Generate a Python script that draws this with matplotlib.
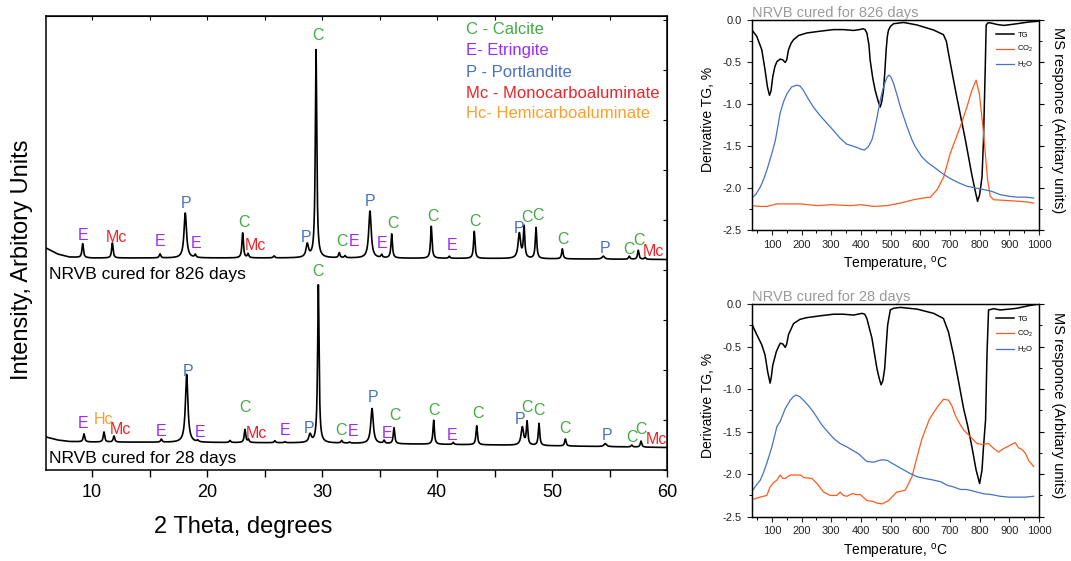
import numpy as np
import matplotlib
matplotlib.use("Agg")
import matplotlib.pyplot as plt
from matplotlib.ticker import MultipleLocator, FuncFormatter

plt.rcParams['font.family'] = ['Liberation Sans', 'DejaVu Sans']
plt.rcParams['mathtext.default'] = 'regular'

# ---------------- XRD data ----------------
bg_x = [6, 7, 8, 10, 20, 30, 45, 60]
bg_826 = [222, 216, 213, 212, 212, 212, 211.5, 210.5]
bg_28 = [33, 30, 28.5, 28, 27.5, 27, 25, 22.5]

peaks_826_pos = [9.19, 11.77, 15.91, 18.11, 18.98, 23.10, 23.57, 25.83, 28.72, 29.48,
                 31.50, 32.0, 34.17, 35.19, 36.06, 39.50, 41.07, 43.24, 47.16, 47.57,
                 48.61, 50.90, 54.46, 56.72, 57.50, 58.09]
peaks_826_h = [14, 15, 4, 45, 3, 25, 4, 2, 13, 208,
               5, 2, 47, 3, 24, 32, 2, 27, 25, 31,
               31, 10, 3, 3, 9, 2]
peaks_826_phase = ['E', 'Mc', 'E', 'P', 'E', 'C', 'Mc', '-', 'P', 'C',
                   'C', 'E', 'P', 'E', 'C', 'C', 'E', 'C', 'P', 'C',
                   'C', 'C', 'P', 'C', 'C', 'Mc']

peaks_28_pos = [9.30, 11.04, 11.91, 16.03, 18.23, 19.19, 22.0, 23.30, 23.60, 25.90,
                26.78, 28.96, 29.68, 31.71, 32.4, 34.35, 35.40, 36.26, 39.71, 41.41,
                43.45, 47.42, 47.83, 48.87, 51.16, 54.63, 56.93, 57.74]
peaks_28_h = [8, 10, 6, 3, 68, 1.5, 2, 13, 3, 2,
              1, 8, 158, 2.5, 1, 35, 3, 16, 24, 2,
              19, 18, 23, 22, 7, 3, 2, 6]
peaks_28_phase = ['E', 'Hc', 'Mc', 'E', 'P', 'E', '-', 'C', 'Mc', '-',
                  'E', 'P', 'C', 'C', 'E', 'P', 'E', 'C', 'C', 'E',
                  'C', 'P', 'C', 'C', 'C', 'P', 'C', 'C']

labels_826 = [('E', 9.24, 235), ('Mc', 12.09, 232.7), ('E', 15.91, 228), ('P', 18.17, 266),
              ('E', 19.02, 226.7), ('C', 23.19, 247.7), ('Mc', 24.17, 225), ('P', 28.61, 232.7),
              ('C', 29.65, 434), ('C', 31.71, 228.3), ('E', 32.81, 228), ('P', 34.2, 268),
              ('E', 35.24, 226.7), ('C', 36.15, 246.7), ('C', 39.63, 253.3), ('E', 41.3, 224),
              ('C', 43.33, 248.7), ('P', 47.13, 241.3), ('C', 47.85, 252.3), ('C', 48.78, 254.7),
              ('C', 50.98, 230.7), ('P', 54.63, 221.7), ('C', 56.7, 220.7), ('C', 57.57, 229.3),
              ('Mc', 58.81, 219)]
labels_28 = [('E', 9.24, 46.7), ('Hc', 11.04, 51), ('Mc', 12.5, 41), ('E', 16.03, 38.7),
             ('P', 18.37, 98), ('E', 19.39, 37.7), ('C', 23.3, 62.3), ('Mc', 24.32, 36),
             ('E', 26.78, 39.3), ('P', 28.9, 41.7), ('C', 29.65, 198.3), ('C', 31.65, 39.3),
             ('E', 32.72, 38.3), ('P', 34.41, 72), ('E', 35.63, 36), ('C', 36.37, 54),
             ('C', 39.71, 59.3), ('E', 41.33, 34.7), ('C', 43.54, 56.7), ('P', 47.22, 50),
             ('C', 47.85, 62.7), ('C', 48.87, 59.3), ('C', 51.16, 41.7), ('P', 54.76, 34.3),
             ('C', 56.93, 32), ('C', 57.77, 40), ('Mc', 59.04, 30)]

legend_phases = ['C - Calcite', 'E- Etringite', 'P - Portlandite',
                 'Mc - Monocarboaluminate', 'Hc- Hemicarboaluminate']
legend_keys = ['C', 'E', 'P', 'Mc', 'Hc']

# ---------------- TG / MS data ----------------
tg826_T = [32, 49, 66, 77, 85, 92, 97, 103, 110, 117, 128, 137, 145, 150, 156, 165, 173, 190, 218, 260,
           308, 340, 375, 395, 407, 414, 420, 427, 431, 440, 448, 458, 465, 470, 476, 481, 485, 489, 493, 500,
           510, 544, 589, 645, 678, 688, 695, 712, 723, 740, 752, 774, 786, 793, 800, 808, 813, 819, 822, 828,
           836, 860, 881, 905, 926, 965, 1000]
tg826 = [-0.12, -0.20, -0.36, -0.60, -0.80, -0.90, -0.85, -0.68, -0.56, -0.50, -0.47, -0.48, -0.51, -0.48, -0.36, -0.28, -0.24, -0.19, -0.16, -0.14,
         -0.12, -0.12, -0.13, -0.12, -0.11, -0.12, -0.16, -0.30, -0.48, -0.70, -0.84, -0.97, -1.04, -0.98, -0.84, -0.60, -0.36, -0.20, -0.125, -0.08,
         -0.05, -0.035, -0.065, -0.125, -0.18, -0.26, -0.40, -0.72, -0.92, -1.22, -1.43, -1.85, -2.05, -2.16, -2.08, -1.87, -1.43, -0.56, -0.065, -0.04,
         -0.04, -0.06, -0.07, -0.06, -0.05, -0.03, -0.02]
h2o826_T = [32, 45, 61, 72, 83, 100, 112, 128, 140, 151, 167, 184, 195, 206, 222, 240, 262, 285, 308, 330,
            352, 370, 386, 400, 412, 425, 437, 443, 455, 465, 474, 482, 489, 495, 502, 510, 522, 533, 555, 572,
            583, 605, 625, 645, 675, 701, 730, 757, 785, 813, 840, 869, 900, 926, 955, 982]
h2o826 = [-2.12, -2.08, -1.99, -1.90, -1.79, -1.59, -1.43, -1.11, -0.97, -0.88, -0.80, -0.78, -0.79, -0.84, -0.94, -1.04, -1.14, -1.23, -1.32, -1.41,
          -1.48, -1.50, -1.52, -1.54, -1.55, -1.51, -1.43, -1.35, -1.15, -0.96, -0.83, -0.74, -0.68, -0.66, -0.69, -0.76, -0.90, -1.04, -1.27, -1.43,
          -1.51, -1.63, -1.70, -1.75, -1.83, -1.89, -1.94, -1.98, -2.00, -2.02, -2.04, -2.08, -2.10, -2.11, -2.11, -2.12]
co2826_T = [32, 60, 83, 117, 160, 196, 252, 300, 364, 400, 443, 488, 533, 578, 610, 634, 657, 679, 701, 718,
            735, 757, 774, 788, 799, 811, 819, 827, 836, 847, 892, 937, 965, 982]
co2826 = [-2.21, -2.22, -2.22, -2.19, -2.19, -2.19, -2.21, -2.20, -2.21, -2.20, -2.22, -2.21, -2.18, -2.14, -2.12, -2.11, -2.02, -1.87, -1.59, -1.43,
          -1.27, -1.04, -0.84, -0.72, -0.88, -1.27, -1.59, -1.91, -2.10, -2.14, -2.15, -2.16, -2.17, -2.18]

tg28_T = [32, 49, 66, 77, 86, 94, 98, 103, 115, 128, 137, 145, 150, 156, 173, 195, 218, 260, 308, 340,
          375, 404, 413, 420, 437, 454, 462, 468, 474, 480, 485, 490, 499, 510, 533, 589, 645, 678, 695, 712,
          729, 746, 759, 774, 788, 800, 808, 813, 820, 825, 830, 847, 869, 900, 926, 965, 1000]
tg28 = [-0.23, -0.36, -0.48, -0.60, -0.80, -0.93, -0.86, -0.72, -0.56, -0.46, -0.47, -0.51, -0.47, -0.36, -0.23, -0.18, -0.16, -0.14, -0.12, -0.12,
        -0.13, -0.11, -0.12, -0.17, -0.40, -0.76, -0.88, -0.95, -0.90, -0.76, -0.50, -0.25, -0.07, -0.05, -0.04, -0.06, -0.11, -0.17, -0.33, -0.60,
        -0.91, -1.23, -1.42, -1.68, -1.95, -2.11, -1.95, -1.68, -1.36, -0.56, -0.07, -0.055, -0.07, -0.06, -0.05, -0.02, 0.0]
h2o28_T = [32, 45, 61, 72, 83, 100, 117, 128, 145, 162, 172, 182, 194, 206, 222, 240, 268, 290, 308, 330,
           353, 372, 392, 407, 420, 443, 460, 476, 490, 504, 524, 544, 565, 589, 615, 645, 670, 690, 712, 735,
           755, 769, 790, 813, 840, 869, 900, 926, 955, 982]
h2o28 = [-2.21, -2.14, -2.07, -1.98, -1.87, -1.68, -1.44, -1.38, -1.23, -1.13, -1.09, -1.07, -1.09, -1.13, -1.19, -1.27, -1.42, -1.51, -1.58, -1.64,
         -1.68, -1.72, -1.76, -1.81, -1.85, -1.86, -1.84, -1.83, -1.84, -1.87, -1.91, -1.95, -1.99, -2.03, -2.05, -2.07, -2.09, -2.13, -2.15, -2.18,
         -2.18, -2.19, -2.21, -2.23, -2.24, -2.26, -2.27, -2.27, -2.27, -2.26]
co228_T = [32, 60, 83, 94, 105, 117, 128, 137, 145, 162, 180, 196, 207, 235, 252, 274, 297, 319, 330, 341,
           353, 370, 385, 398, 420, 440, 454, 471, 493, 521, 549, 562, 572, 589, 606, 630, 648, 662, 678, 695,
           707, 718, 735, 746, 769, 791, 808, 830, 848, 864, 880, 892, 908, 920, 931, 943, 955, 965, 982]
co228 = [-2.30, -2.27, -2.25, -2.15, -2.10, -2.07, -2.01, -2.05, -2.05, -2.01, -2.01, -2.01, -2.04, -2.05, -2.11, -2.21, -2.25, -2.25, -2.21, -2.25,
         -2.26, -2.23, -2.24, -2.24, -2.31, -2.32, -2.34, -2.35, -2.31, -2.21, -2.19, -2.10, -2.03, -1.80, -1.58, -1.36, -1.26, -1.19, -1.12, -1.13,
         -1.20, -1.31, -1.42, -1.48, -1.56, -1.64, -1.65, -1.64, -1.70, -1.74, -1.70, -1.68, -1.65, -1.63, -1.69, -1.71, -1.76, -1.84, -1.91]

# ---------------- styles ----------------
phase_colors = {'C': '#44aa44', 'E': '#9a2cff', 'P': '#4a72c0', 'Mc': '#e8262b', 'Hc': '#f9a12e'}
col_co2 = '#ff5a1e'
col_h2o = '#4472c4'
W, H = 1071, 561

fig = plt.figure(figsize=(W / 100, H / 100), dpi=100)

# ---------------- XRD panel ----------------
ax = fig.add_axes([46 / W, 1 - 470 / H, 621 / W, 454 / H])
theta = np.linspace(6, 60, 10801)


def pattern(bgx, bgy, pos, hts, phases):
    y = np.interp(theta, bgx, bgy)
    for p, h, ph in zip(pos, hts, phases):
        fw = 0.26 if ph == 'P' else 0.15
        y = y + h / (1 + ((theta - p) / (fw / 2)) ** 2)
    return y


ax.plot(theta, pattern(bg_x, bg_826, peaks_826_pos, peaks_826_h, peaks_826_phase),
        color='black', lw=1.2)
ax.plot(theta, pattern(bg_x, bg_28, peaks_28_pos, peaks_28_h, peaks_28_phase),
        color='black', lw=1.2)
ax.set_xlim(6, 60)
ax.set_ylim(0, 454)
ax.set_yticks([])
ax.xaxis.set_major_locator(MultipleLocator(5))
ax.xaxis.set_major_formatter(FuncFormatter(lambda v, p: '%d' % v if int(round(v)) % 10 == 0 else ''))
ax.tick_params(axis='x', direction='out', length=5, width=1, labelsize=13, pad=5)
for s in ax.spines.values():
    s.set_linewidth(1.1)
sx = ax.secondary_xaxis('top')
sx.xaxis.set_major_locator(MultipleLocator(5))
sx.tick_params(direction='in', length=3, width=0.8, labeltop=False)
sy = ax.secondary_yaxis('right')
sy.yaxis.set_major_locator(MultipleLocator(50))
sy.tick_params(direction='in', length=3, width=0.8, labelright=False)

for lbls in (labels_826, labels_28):
    for s, x, y in lbls:
        ax.text(x, y, s, color=phase_colors[s], fontsize=11.5, ha='center', va='center')

fig.text(49 / W, 1 - 274 / H, 'NRVB cured for 826 days', fontsize=12.5, ha='left', va='center')
fig.text(49 / W, 1 - 459 / H, 'NRVB cured for 28 days', fontsize=12.5, ha='left', va='center')

for i, (txt, key) in enumerate(zip(legend_phases, legend_keys)):
    fig.text(466 / W, 1 - (30 + 21 * i) / H, txt, color=phase_colors[key], fontsize=12,
             ha='left', va='center')

fig.text(22 / W, 1 - 260 / H, 'Intensity, Arbitory Units', rotation=90, fontsize=17,
         ha='center', va='center')
fig.text(243 / W, 1 - 527 / H, '2 Theta, degrees', fontsize=17, ha='center', va='center')


# ---------------- TG panels ----------------
def tg_panel(top_px, bot_px, title, T_tg, tg, T_co2, co2, T_h2o, h2o):
    a = fig.add_axes([751.7 / W, 1 - bot_px / H, 287.3 / W, (bot_px - top_px) / H])
    l1, = a.plot(T_tg, tg, color='black', lw=1.1, label='TG')
    a.set_xlim(32, 1000)
    a.set_ylim(-2.5, 0)
    a.xaxis.set_major_locator(MultipleLocator(100))
    a.xaxis.set_minor_locator(MultipleLocator(50))
    a.yaxis.set_major_locator(MultipleLocator(0.5))
    a.yaxis.set_minor_locator(MultipleLocator(0.25))
    a.yaxis.set_major_formatter(FuncFormatter(lambda v, p: '%.1f' % v if abs(v) > 1e-9 else '0.0'))
    a.tick_params(which='major', direction='out', length=3.5, width=0.8, labelsize=8, colors='#222222')
    a.tick_params(which='minor', direction='out', length=2, width=0.7)
    t = a.twinx()
    l2, = t.plot(T_co2, co2, color=col_co2, lw=0.9, label='CO$_2$')
    l3, = t.plot(T_h2o, h2o, color=col_h2o, lw=0.9, label='H$_2$O')
    t.set_ylim(-2.5, 0)
    t.yaxis.set_major_locator(MultipleLocator(0.5))
    t.yaxis.set_minor_locator(MultipleLocator(0.25))
    t.tick_params(which='major', direction='out', length=3.5, width=0.8, labelright=False)
    t.tick_params(which='minor', direction='out', length=2, width=0.7)
    for s in list(a.spines.values()) + list(t.spines.values()):
        s.set_linewidth(0.9)
    t.legend(handles=[l1, l2, l3], loc='upper right', bbox_to_anchor=(1.0, 0.97),
             frameon=False, fontsize=5.5, handlelength=2.4, labelspacing=0.75,
             handletextpad=0.4, borderaxespad=0.3)
    fig.text(752 / W, 1 - (top_px - 6.5) / H, title, color='#9a9a9a', fontsize=10.5,
             ha='left', va='center')
    mid = (top_px + bot_px) / 2 - 5
    fig.text(708 / W, 1 - mid / H, 'Derivative TG, %', rotation=90, fontsize=10,
             ha='center', va='center')
    fig.text(1058 / W, 1 - mid / H, 'MS responce (Arbitary units)', rotation=270, fontsize=10.5,
             ha='center', va='center')
    fig.text(895.4 / W, 1 - (bot_px + 35) / H, 'Temperature, $^o$C', fontsize=10,
             ha='center', va='center')
    return a


tg_panel(19.5, 230, 'NRVB cured for 826 days', tg826_T, tg826, co2826_T, co2826, h2o826_T, h2o826)
tg_panel(304, 516.7, 'NRVB cured for 28 days', tg28_T, tg28, co228_T, co228, h2o28_T, h2o28)

fig.savefig('out.png', dpi=100)
